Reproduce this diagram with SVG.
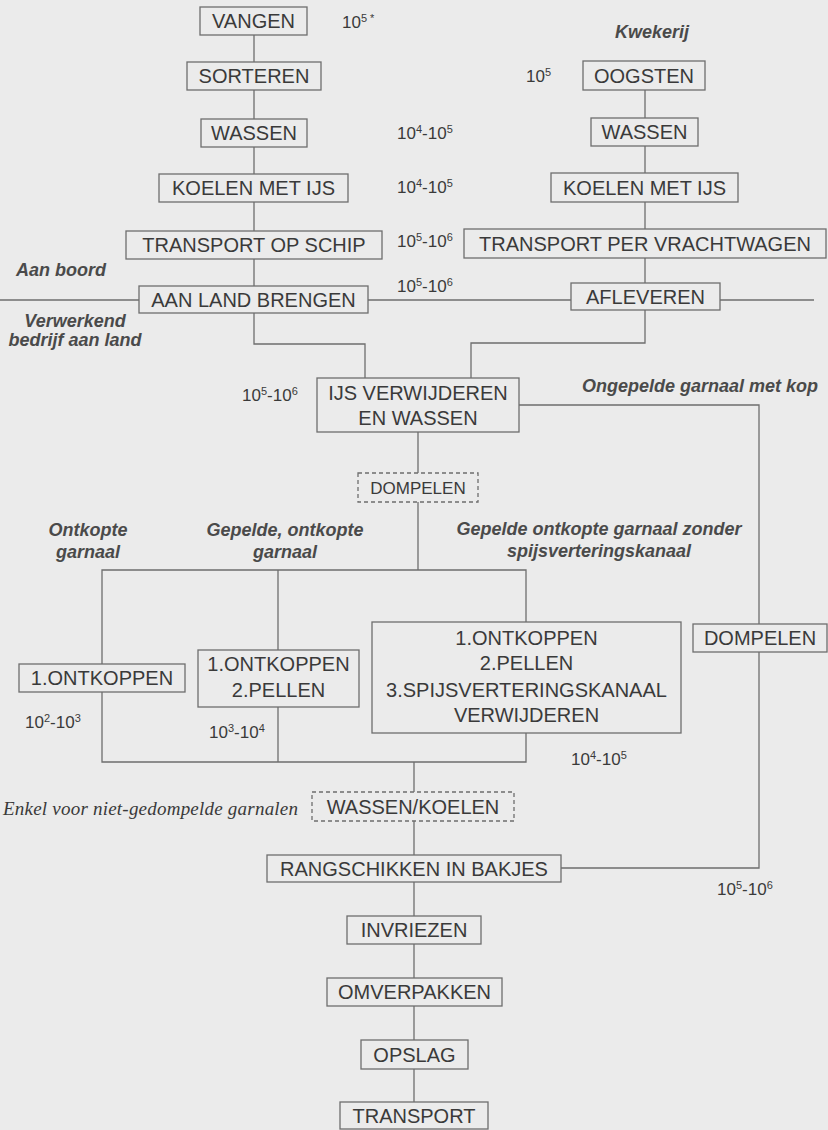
<svg xmlns="http://www.w3.org/2000/svg" width="828" height="1130" viewBox="0 0 828 1130">
<style>
.bg{fill:#ebebeb}
.box{fill:#ebebeb;stroke:#6e6e6e;stroke-width:1.3}
.dash{fill:#ebebeb;stroke:#6e6e6e;stroke-width:1.3;stroke-dasharray:4 3}
.ln{fill:none;stroke:#6e6e6e;stroke-width:1.3}
.t{font-family:"Liberation Sans",Arial,sans-serif;font-size:20px;fill:#3a3a3a;text-anchor:middle}
.n{font-family:"Liberation Sans",Arial,sans-serif;font-size:17px;fill:#3a3a3a}
.s{font-size:11px}
.l{font-family:"Liberation Sans",Arial,sans-serif;font-size:18px;font-weight:bold;font-style:italic;fill:#4a4a4a}
.m{text-anchor:middle}
.e{font-family:"Liberation Serif","Times New Roman",serif;font-size:19px;font-style:italic;fill:#3a3a3a}
</style>
<rect class="bg" x="0" y="0" width="828" height="1130"/>
<g id="connectors">
<line class="ln" x1="0" y1="300" x2="814" y2="300"/>
<path class="ln" d="M254 35 V344 H365 V378"/>
<path class="ln" d="M645 90 V343 H471 V378"/>
<path class="ln" d="M519 405 H759 V868 H561"/>
<path class="ln" d="M418 432 V570"/>
<path class="ln" d="M102 570 H526 V762 H102 Z"/>
<path class="ln" d="M278 570 V762"/>
<path class="ln" d="M414 762 V1102"/>
</g>
<g id="vangen"><rect class="box" x="200" y="7" width="107" height="28"/><text class="t" x="253.5" y="28">VANGEN</text></g>
<g id="sorteren"><rect class="box" x="187" y="62" width="134" height="28"/><text class="t" x="254" y="83">SORTEREN</text></g>
<g id="wassen1"><rect class="box" x="201" y="119" width="106" height="28"/><text class="t" x="254" y="140">WASSEN</text></g>
<g id="koelen1"><rect class="box" x="159" y="174" width="189" height="28"/><text class="t" x="253.5" y="195">KOELEN MET IJS</text></g>
<g id="transport-schip"><rect class="box" x="126" y="231" width="256" height="28"/><text class="t" x="254" y="252">TRANSPORT OP SCHIP</text></g>
<g id="aan-land"><rect class="box" x="139" y="286" width="229" height="27"/><text class="t" x="253.5" y="307">AAN LAND BRENGEN</text></g>
<g id="oogsten"><rect class="box" x="583" y="61" width="122" height="29"/><text class="t" x="644" y="83">OOGSTEN</text></g>
<g id="wassen2"><rect class="box" x="591" y="118" width="107" height="28"/><text class="t" x="644.5" y="139">WASSEN</text></g>
<g id="koelen2"><rect class="box" x="551" y="173" width="187" height="29"/><text class="t" x="644.5" y="195">KOELEN MET IJS</text></g>
<g id="transport-vracht"><rect class="box" x="464" y="229" width="362" height="29"/><text class="t" x="645" y="251">TRANSPORT PER VRACHTWAGEN</text></g>
<g id="afleveren"><rect class="box" x="571" y="283" width="149" height="27"/><text class="t" x="645.5" y="304">AFLEVEREN</text></g>
<g id="ijs"><rect class="box" x="317" y="378" width="202" height="54"/><text class="t" x="418" y="400">IJS VERWIJDEREN</text><text class="t" x="418" y="425">EN WASSEN</text></g>
<g id="dompelen1"><rect class="dash" x="358" y="473" width="120" height="29"/><text class="t" x="418" y="494" style="font-size:17px">DOMPELEN</text></g>
<g id="ontkoppen"><rect class="box" x="19" y="664" width="166" height="28"/><text class="t" x="102" y="685">1.ONTKOPPEN</text></g>
<g id="ontkoppen-pellen"><rect class="box" x="198" y="650" width="161" height="57"/><text class="t" x="278.5" y="671">1.ONTKOPPEN</text><text class="t" x="278.5" y="697">2.PELLEN</text></g>
<g id="ontkoppen-pellen-kanaal"><rect class="box" x="372" y="622" width="309" height="111"/><text class="t" x="526.5" y="645">1.ONTKOPPEN</text><text class="t" x="526.5" y="670">2.PELLEN</text><text class="t" x="526.5" y="697">3.SPIJSVERTERINGSKANAAL</text><text class="t" x="526.5" y="722">VERWIJDEREN</text></g>
<g id="dompelen2"><rect class="box" x="693" y="624" width="134" height="28"/><text class="t" x="760" y="645">DOMPELEN</text></g>
<g id="wassen-koelen"><rect class="dash" x="312" y="792" width="202" height="29"/><text class="t" x="413" y="814">WASSEN/KOELEN</text></g>
<g id="rangschikken"><rect class="box" x="267" y="855" width="294" height="27"/><text class="t" x="414" y="876">RANGSCHIKKEN IN BAKJES</text></g>
<g id="invriezen"><rect class="box" x="347" y="916" width="134" height="28"/><text class="t" x="414" y="937">INVRIEZEN</text></g>
<g id="omverpakken"><rect class="box" x="327" y="978" width="175" height="28"/><text class="t" x="414.5" y="999">OMVERPAKKEN</text></g>
<g id="opslag"><rect class="box" x="361" y="1040" width="107" height="29"/><text class="t" x="414.5" y="1062">OPSLAG</text></g>
<g id="transport"><rect class="box" x="340" y="1102" width="148" height="27"/><text class="t" x="414" y="1123">TRANSPORT</text></g>
<g id="labels">
<text class="n" x="342" y="28">10<tspan class="s" dy="-6">5 *</tspan></text>
<text class="n" x="526" y="82">10<tspan class="s" dy="-6">5</tspan></text>
<text class="n" x="397" y="139">10<tspan class="s" dy="-6">4</tspan><tspan dy="6">-10</tspan><tspan class="s" dy="-6">5</tspan></text>
<text class="n" x="397" y="193">10<tspan class="s" dy="-6">4</tspan><tspan dy="6">-10</tspan><tspan class="s" dy="-6">5</tspan></text>
<text class="n" x="397" y="247">10<tspan class="s" dy="-6">5</tspan><tspan dy="6">-10</tspan><tspan class="s" dy="-6">6</tspan></text>
<text class="n" x="397" y="292">10<tspan class="s" dy="-6">5</tspan><tspan dy="6">-10</tspan><tspan class="s" dy="-6">6</tspan></text>
<text class="n" x="242" y="401">10<tspan class="s" dy="-6">5</tspan><tspan dy="6">-10</tspan><tspan class="s" dy="-6">6</tspan></text>
<text class="n" x="25" y="728">10<tspan class="s" dy="-6">2</tspan><tspan dy="6">-10</tspan><tspan class="s" dy="-6">3</tspan></text>
<text class="n" x="209" y="738">10<tspan class="s" dy="-6">3</tspan><tspan dy="6">-10</tspan><tspan class="s" dy="-6">4</tspan></text>
<text class="n" x="571" y="765">10<tspan class="s" dy="-6">4</tspan><tspan dy="6">-10</tspan><tspan class="s" dy="-6">5</tspan></text>
<text class="n" x="717" y="895">10<tspan class="s" dy="-6">5</tspan><tspan dy="6">-10</tspan><tspan class="s" dy="-6">6</tspan></text>
<text class="l m" x="652" y="38">Kwekerij</text>
<text class="l" x="16" y="276">Aan boord</text>
<text class="l m" x="75" y="327">Verwerkend</text>
<text class="l m" x="75" y="346">bedrijf aan land</text>
<text class="l m" x="700" y="392">Ongepelde garnaal met kop</text>
<text class="l m" x="88" y="536">Ontkopte</text>
<text class="l m" x="88" y="558">garnaal</text>
<text class="l m" x="285" y="536">Gepelde, ontkopte</text>
<text class="l m" x="285" y="558">garnaal</text>
<text class="l m" x="599" y="535">Gepelde ontkopte garnaal zonder</text>
<text class="l m" x="599" y="557">spijsverteringskanaal</text>
<text class="e" x="3" y="815" textLength="295">Enkel voor niet-gedompelde garnalen</text>
</g>
</svg>
